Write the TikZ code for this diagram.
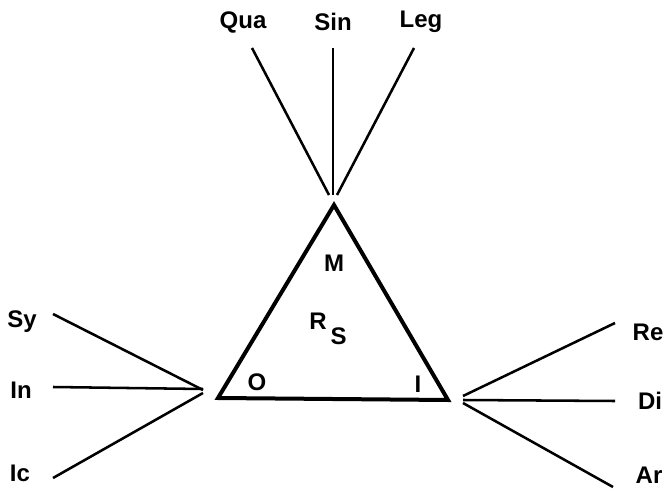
\documentclass[tikz,border=0pt]{standalone}
\usepackage{fontspec}
\setmainfont{Liberation Sans}
\usetikzlibrary{calc}
\tikzset{
  % --- labels ----------------------------------------------------
  lbl/.style={font=\fontsize{18}{20}\selectfont\bfseries, inner sep=0pt},
  inlbl/.style={font=\fontsize{18}{20}\selectfont\bfseries, inner sep=0pt},
  % --- lines -----------------------------------------------------
  tri/.style={line width=3pt, line join=miter},
  ray/.style={line width=1.9pt}
}
\begin{document}
\begin{tikzpicture}[x=0.75pt, y=-0.75pt]
  \useasboundingbox (0,0) rectangle (666,491);

  % --- Dreieck ----------------------------------------------------
  \coordinate (top) at (334,205);
  \coordinate (lft) at (218,398);
  \coordinate (rgt) at (448,400);
  \draw[tri] (top) -- (lft) -- (rgt) -- cycle;

  \node[inlbl] (M) at (334,263) {M};
  \node[inlbl] (RS) at (328,329) {R\,\raisebox{-1.2ex}{S}};
  \node[inlbl] (O) at (257,382) {O};
  \node[inlbl] (I) at (418,384) {I};

  % --- oben -------------------------------------------------------
  \node[lbl] (Qua) at (243,22) {Qua};
  \node[lbl] (Sin) at (333,22) {Sin};
  \node[lbl] (Leg) at (421,22) {Leg};
  \coordinate (hubT) at (333,195);
  \coordinate (quaE) at (252,48);
  \coordinate (sinE) at (333,48);
  \coordinate (legE) at (414,48);
  \draw[ray] (quaE) -- ($(hubT)+(-4,0)$);
  \draw[ray] (sinE) -- (hubT);
  \draw[ray] (legE) -- ($(hubT)+(4,0)$);

  % --- links ------------------------------------------------------
  \node[lbl] (Sy) at (22,322) {Sy};
  \node[lbl] (In) at (21,390) {In};
  \node[lbl] (Ic) at (20,473) {Ic};
  \coordinate (syE) at (53,314);
  \coordinate (inE) at (53,387);
  \coordinate (icE) at (53,478);
  \draw[ray] (syE) -- (203,390);
  \draw[ray] (inE) -- (203,389);
  \draw[ray] (icE) -- (203,393);

  % --- rechts -----------------------------------------------------
  \node[lbl] (Re) at (648,332) {Re};
  \node[lbl] (Di) at (650,401) {Di};
  \node[lbl] (Ar) at (649,475) {Ar};
  \coordinate (reE) at (615,323);
  \coordinate (diE) at (615,401);
  \coordinate (arE) at (613,487);
  \draw[ray] (463,396) -- (reE);
  \draw[ray] (463,400) -- (diE);
  \draw[ray] (463,403) -- (arE);

\end{tikzpicture}
\end{document}
